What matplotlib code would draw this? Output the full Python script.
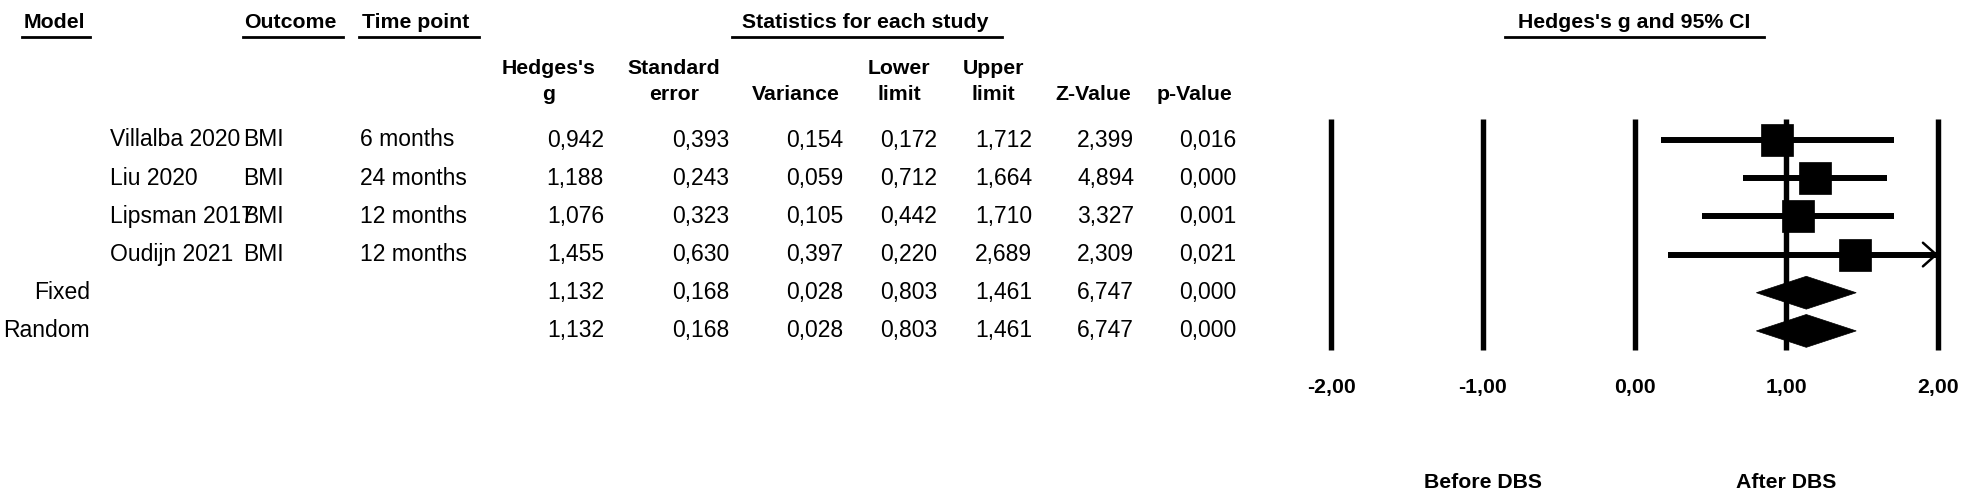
import matplotlib
matplotlib.use("Agg")
import matplotlib.pyplot as plt
from matplotlib.patches import Rectangle, Polygon
from matplotlib.lines import Line2D
import matplotlib.transforms as mtransforms

plt.rcParams['font.family'] = ['Liberation Sans', 'DejaVu Sans']

# ---------------- data ----------------
models = ["", "", "", "", "Fixed", "Random"]
studies = ["Villalba 2020", "Liu 2020", "Lipsman 2017", "Oudijn 2021", "", ""]
outcomes = ["BMI", "BMI", "BMI", "BMI", "", ""]
timepoints = ["6 months", "24 months", "12 months", "12 months", "", ""]
hedges_g = [0.942, 1.188, 1.076, 1.455, 1.132, 1.132]
std_err = [0.393, 0.243, 0.323, 0.630, 0.168, 0.168]
variance = [0.154, 0.059, 0.105, 0.397, 0.028, 0.028]
lower = [0.172, 0.712, 0.442, 0.220, 0.803, 0.803]
upper = [1.712, 1.664, 1.710, 2.689, 1.461, 1.461]
z_value = [2.399, 4.894, 3.327, 2.309, 6.747, 6.747]
p_value = [0.016, 0.000, 0.001, 0.021, 0.000, 0.000]
is_summary = [False, False, False, False, True, True]
xticks = [-2, -1, 0, 1, 2]
xtick_labels = ["-2,00", "-1,00", "0,00", "1,00", "2,00"]
xmin, xmax = -2.0, 2.0

W, H = 1971, 493
fig = plt.figure(figsize=(W / 100, H / 100), dpi=100)
fig.patch.set_facecolor("white")

def fx(px):
    return px / W

def fy(py):
    return 1 - py / H

# forest axes
ax_l, ax_r, ax_t, ax_b = 1331, 1938, 119, 350
ax = fig.add_axes([fx(ax_l), fy(ax_b), fx(ax_r - ax_l), (ax_b - ax_t) / H])
ax.set_xlim(xmin, xmax)
n = len(hedges_g)
ax.set_ylim(5.5, -0.55)
ax.axis("off")

LW_V = 3.9
LW_CI = 4.3
for t in xticks:
    ax.axvline(t, color="black", lw=LW_V, solid_capstyle="butt", clip_on=False)

sq_w = 0.211
sq_h = 0.84
dia_h = 0.43
for i in range(n):
    g, lo, hi = hedges_g[i], lower[i], upper[i]
    if is_summary[i]:
        ax.add_patch(Polygon([(lo, i), (g, i - dia_h), (hi, i), (g, i + dia_h)],
                             closed=True, facecolor="black", edgecolor="black",
                             lw=0.5, clip_on=False))
    else:
        hi_c = min(hi, xmax)
        ax.plot([lo, hi_c], [i, i], color="black", lw=LW_CI, solid_capstyle="butt",
                clip_on=False)
        if hi > xmax:
            ax.annotate("", xy=(xmax, i), xytext=(xmax - 0.15, i),
                        arrowprops=dict(arrowstyle="->,head_length=0.95,head_width=0.85",
                                        color="black", lw=1.8, shrinkA=0, shrinkB=0),
                        annotation_clip=False)
        ax.add_patch(Rectangle((g - sq_w / 2, i - sq_h / 2), sq_w, sq_h,
                               facecolor="black", edgecolor="black", lw=0.5,
                               clip_on=False))

FS = 16.5
FSB = 15.3
row_tr = mtransforms.blended_transform_factory(fig.transFigure, ax.transData)

# table rows
for i in range(n):
    if models[i]:
        fig.text(fx(90), i, models[i], transform=row_tr, ha="right", va="center", fontsize=FS)
    if studies[i]:
        fig.text(fx(110), i, studies[i], transform=row_tr, ha="left", va="center", fontsize=FS)
    if outcomes[i]:
        fig.text(fx(243), i, outcomes[i], transform=row_tr, ha="left", va="center", fontsize=FS)
    if timepoints[i]:
        fig.text(fx(360), i, timepoints[i], transform=row_tr, ha="left", va="center", fontsize=FS)

num_cols = [hedges_g, std_err, variance, lower, upper, z_value, p_value]
num_right = [604, 729, 843, 937, 1032, 1134, 1236]
for col, xr in zip(num_cols, num_right):
    for i, v in enumerate(col):
        fig.text(fx(xr), i, f"{v:.3f}".replace(".", ","), transform=row_tr,
                 ha="right", va="center", fontsize=FS)

# header row 1
def header(x, y, s, ha, ul):
    fig.text(fx(x), fy(y), s, ha=ha, va="center", fontsize=FSB, fontweight="bold")
    fig.add_artist(Line2D([fx(ul[0]), fx(ul[1])], [fy(37), fy(37)], color="black", lw=2.0))

header(24, 23, "Model", "left", (22, 90))
header(244, 23, "Outcome", "left", (243, 343))
header(362, 23, "Time point", "left", (359, 479))
header(865, 23, "Statistics for each study", "center", (732, 1002))
header(1634, 23, "Hedges's g and 95% CI", "center", (1505, 1764))

# header row 2
sub_heads = [("Hedges's", "g", 549), ("Standard", "error", 674), ("", "Variance", 796),
             ("Lower", "limit", 899), ("Upper", "limit", 993), ("", "Z-Value", 1093),
             ("", "p-Value", 1194)]
for top, bot, xc in sub_heads:
    if top:
        fig.text(fx(xc), fy(68), top, ha="center", va="center", fontsize=FSB, fontweight="bold")
    fig.text(fx(xc), fy(95), bot, ha="center", va="center", fontsize=FSB, fontweight="bold")

# tick labels
tick_tr = mtransforms.blended_transform_factory(ax.transData, fig.transFigure)
for t, lab in zip(xticks, xtick_labels):
    fig.text(t, fy(388), lab, transform=tick_tr, ha="center", va="center",
             fontsize=FSB, fontweight="bold")
fig.text(-1, fy(483), "Before DBS", transform=tick_tr, ha="center", va="center",
         fontsize=FSB, fontweight="bold")
fig.text(1, fy(483), "After DBS", transform=tick_tr, ha="center", va="center",
         fontsize=FSB, fontweight="bold")

fig.savefig("out.png", dpi=100, facecolor="white")
